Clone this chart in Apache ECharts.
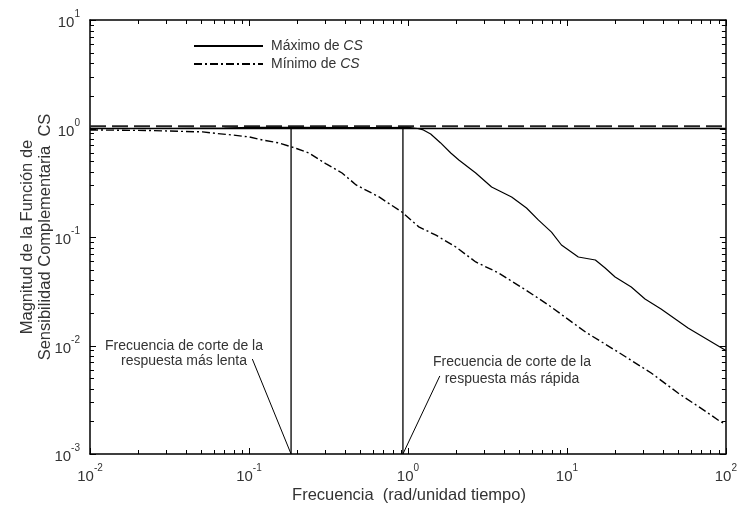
<!DOCTYPE html>
<html>
<head>
<meta charset="utf-8">
<script src="https://cdn.jsdelivr.net/npm/echarts@6/dist/echarts.min.js"></script>
<style>
  html, body { margin: 0; padding: 0; background: #fff; }
  #chart { width: 740px; height: 506px; }
</style>
</head>
<body>
<div id="chart"></div>
<script>
// Complementary sensitivity magnitude |CS(jw)|, upper and lower envelopes
const freqMax = [0.01, 0.03, 0.07, 0.1, 0.2, 0.4, 0.7, 1.0, 1.15, 1.25, 1.39, 1.6, 1.86, 2.09, 2.67, 3.36, 4.49, 5.57, 6.63, 8.0, 9.24, 11.8, 15.1, 17.4, 20.1, 25.4, 31.0, 39.1, 57.8, 100];
const magMax  = [1.0, 1.0, 1.01, 1.025, 1.025, 1.02, 1.02, 1.025, 1.0, 0.97, 0.89, 0.74, 0.594, 0.513, 0.389, 0.289, 0.234, 0.185, 0.143, 0.111, 0.0844, 0.0654, 0.0614, 0.0518, 0.0428, 0.0346, 0.0268, 0.0217, 0.0145, 0.0090];

const freqMin = [0.01, 0.0238, 0.0511, 0.0625, 0.0789, 0.1007, 0.1217, 0.155, 0.199, 0.239, 0.306, 0.385, 0.472, 0.658, 0.916, 1.17, 1.5, 2.0, 2.67, 3.72, 5.5, 7.66, 13.1, 21.0, 33.9, 50.0, 77.1, 93.1, 100];
const magMin  = [0.97, 0.958, 0.93, 0.90, 0.871, 0.835, 0.783, 0.735, 0.654, 0.594, 0.471, 0.389, 0.302, 0.234, 0.170, 0.124, 0.104, 0.0809, 0.0589, 0.0466, 0.0325, 0.0236, 0.0133, 0.0087, 0.00558, 0.00365, 0.00239, 0.00197, 0.0019];

// Reference levels
const unityLevel = 1.0;
const dashedLevel = 1.05;

// Cut-off frequencies of the slowest and fastest responses
const cutoffFreqs = [0.184, 0.93];

// Axis ranges
const xRange = [0.01, 100];
const yRange = [0.001, 10];

// Annotation texts and the data-space points where their leader lines start
const annotSlow = ['Frecuencia de corte de la', 'respuesta más lenta'];
const annotFast = ['Frecuencia de corte de la', 'respuesta más rápida'];
const leaderSlowStart = [0.105, 0.0075];
const leaderFastStart = [1.587, 0.00524];

const FONT = '"Liberation Sans", Arial, sans-serif';
const INK = '#333';

const powLabel = v => '{b|10}{s|' + Math.round(Math.log10(v)) + '}';
const supRich = {
  b: { fontFamily: FONT, fontSize: 15, color: INK, padding: [6, 0, 0, 0] },
  s: { fontFamily: FONT, fontSize: 10, color: INK, verticalAlign: 'top', lineHeight: 11 }
};

// Log axis frame; tick marks are added afterwards from the axis scale
function logAxis(pos, range, withLabels, margin) {
  return {
    type: 'log',
    logBase: 10,
    position: pos,
    min: range[0],
    max: range[1],
    splitLine: { show: false },
    minorSplitLine: { show: false },
    axisLine: { show: true, onZero: false, lineStyle: { color: '#000', width: 1.5 } },
    axisTick: { show: false },
    minorTick: { show: false },
    axisLabel: withLabels
      ? { show: true, formatter: powLabel, rich: supRich, margin }
      : { show: false }
  };
}

const chart = echarts.init(document.getElementById('chart'));

const line = (name, data, style, z) => ({
  name, type: 'line', data, symbol: 'none', z: z || 2,
  lineStyle: Object.assign({ color: '#000', width: 1.2 }, style)
});

const series = [
  line('ref-dashed', [[xRange[0], dashedLevel], [xRange[1], dashedLevel]], { type: [16, 6], width: 2, color: '#222' }, 1),
  line('ref-unity', [[xRange[0], unityLevel], [xRange[1], unityLevel]], { width: 1.3 }, 1),
  line('Máximo de CS', freqMax.map((f, i) => [f, magMax[i]]), { width: 1.2 }, 3),
  line('Mínimo de CS', freqMin.map((f, i) => [f, magMin[i]]), { type: [8, 3, 2, 3], width: 1.4 }, 3),
  line('cutoff-slow', [[cutoffFreqs[0], unityLevel], [cutoffFreqs[0], yRange[0]]], { width: 1.3 }, 2),
  line('cutoff-fast', [[cutoffFreqs[1], unityLevel], [cutoffFreqs[1], yRange[0]]], { width: 1.3 }, 2),
  line('leader-slow', [leaderSlowStart, [cutoffFreqs[0], yRange[0]]], { width: 1 }, 2),
  line('leader-fast', [leaderFastStart, [cutoffFreqs[1], yRange[0]]], { width: 1 }, 2)
];

const textEls = [
  {
    id: 't-x', type: 'text', z: 10, x: 409, y: 495,
    style: { text: 'Frecuencia  (rad/unidad tiempo)', font: '16.5px ' + FONT, fill: INK, align: 'center', verticalAlign: 'middle' }
  },
  {
    id: 't-y1', type: 'text', z: 10, x: 27, y: 237, rotation: Math.PI / 2,
    style: { text: 'Magnitud de la Función de', font: '16.5px ' + FONT, fill: INK, align: 'center', verticalAlign: 'middle' }
  },
  {
    id: 't-y2', type: 'text', z: 10, x: 45, y: 237, rotation: Math.PI / 2,
    style: { text: 'Sensibilidad Complementaria  CS', font: '16.5px ' + FONT, fill: INK, align: 'center', verticalAlign: 'middle' }
  },
  {
    id: 't-slow', type: 'text', z: 10, x: 184, y: 354,
    style: { text: annotSlow.join('\n'), font: '14px ' + FONT, fill: INK, align: 'center', verticalAlign: 'middle', lineHeight: 15 }
  },
  {
    id: 't-fast', type: 'text', z: 10, x: 512, y: 371,
    style: { text: annotFast.join('\n'), font: '14px ' + FONT, fill: INK, align: 'center', verticalAlign: 'middle', lineHeight: 17 }
  }
];

chart.setOption({
  animation: false,
  backgroundColor: '#fff',
  grid: { left: 90, right: 12, top: 20, bottom: 52 },
  legend: {
    data: ['Máximo de CS', 'Mínimo de CS'],
    orient: 'vertical',
    left: 193, top: 39, padding: 0,
    itemWidth: 69, itemHeight: 14, itemGap: 4,
    selectedMode: false,
    itemStyle: { opacity: 0 },
    formatter: n => n === 'Máximo de CS' ? '{n|Máximo de }{i|CS}' : '{n|Mínimo de }{i|CS}',
    textStyle: {
      fontFamily: FONT, fontSize: 14, color: INK, padding: [0, 0, 0, 3],
      rich: {
        n: { fontFamily: FONT, fontSize: 14, color: INK },
        i: { fontFamily: FONT, fontSize: 14, color: INK, fontStyle: 'italic' }
      }
    }
  },
  xAxis: [logAxis('bottom', xRange, true, 9), logAxis('top', xRange, false)],
  yAxis: [logAxis('left', yRange, true, 10), logAxis('right', yRange, false)],
  series,
  graphic: { elements: textEls }
});

// Inside tick marks on all four sides: decades (long) and 2..9 (short),
// positioned through the grid's own log scales.
function decadeTicks(range) {
  const out = [];
  const lo = Math.round(Math.log10(range[0]));
  const hi = Math.round(Math.log10(range[1]));
  for (let n = lo; n < hi; n++) {
    for (let k = 1; k <= 9; k++) out.push({ v: k * Math.pow(10, n), major: k === 1 });
  }
  out.push({ v: range[1], major: true });
  return out;
}

(function addTicks() {
  const px = (x, y) => chart.convertToPixel({ gridIndex: 0 }, [x, y]);
  const [xl, yb] = px(xRange[0], yRange[0]);
  const [xr, yt] = px(xRange[1], yRange[1]);
  const ls = { stroke: '#000', lineWidth: 1 };
  const els = [];
  decadeTicks(xRange).forEach((t, i) => {
    const x = Math.round(px(t.v, yRange[0])[0]) + 0.5;
    const len = t.major ? 6 : 4;
    els.push({ id: 'tb' + i, type: 'line', z: 20, silent: true, shape: { x1: x, y1: yb, x2: x, y2: yb - len }, style: ls });
    els.push({ id: 'tt' + i, type: 'line', z: 20, silent: true, shape: { x1: x, y1: yt, x2: x, y2: yt + len }, style: ls });
  });
  decadeTicks(yRange).forEach((t, i) => {
    const y = Math.round(px(xRange[0], t.v)[1]) + 0.5;
    const len = t.major ? 6 : 4;
    els.push({ id: 'tl' + i, type: 'line', z: 20, silent: true, shape: { x1: xl, y1: y, x2: xl + len, y2: y }, style: ls });
    els.push({ id: 'tr' + i, type: 'line', z: 20, silent: true, shape: { x1: xr, y1: y, x2: xr - len, y2: y }, style: ls });
  });
  chart.setOption({ graphic: { elements: textEls.concat(els) } });
})();
</script>
</body>
</html>
